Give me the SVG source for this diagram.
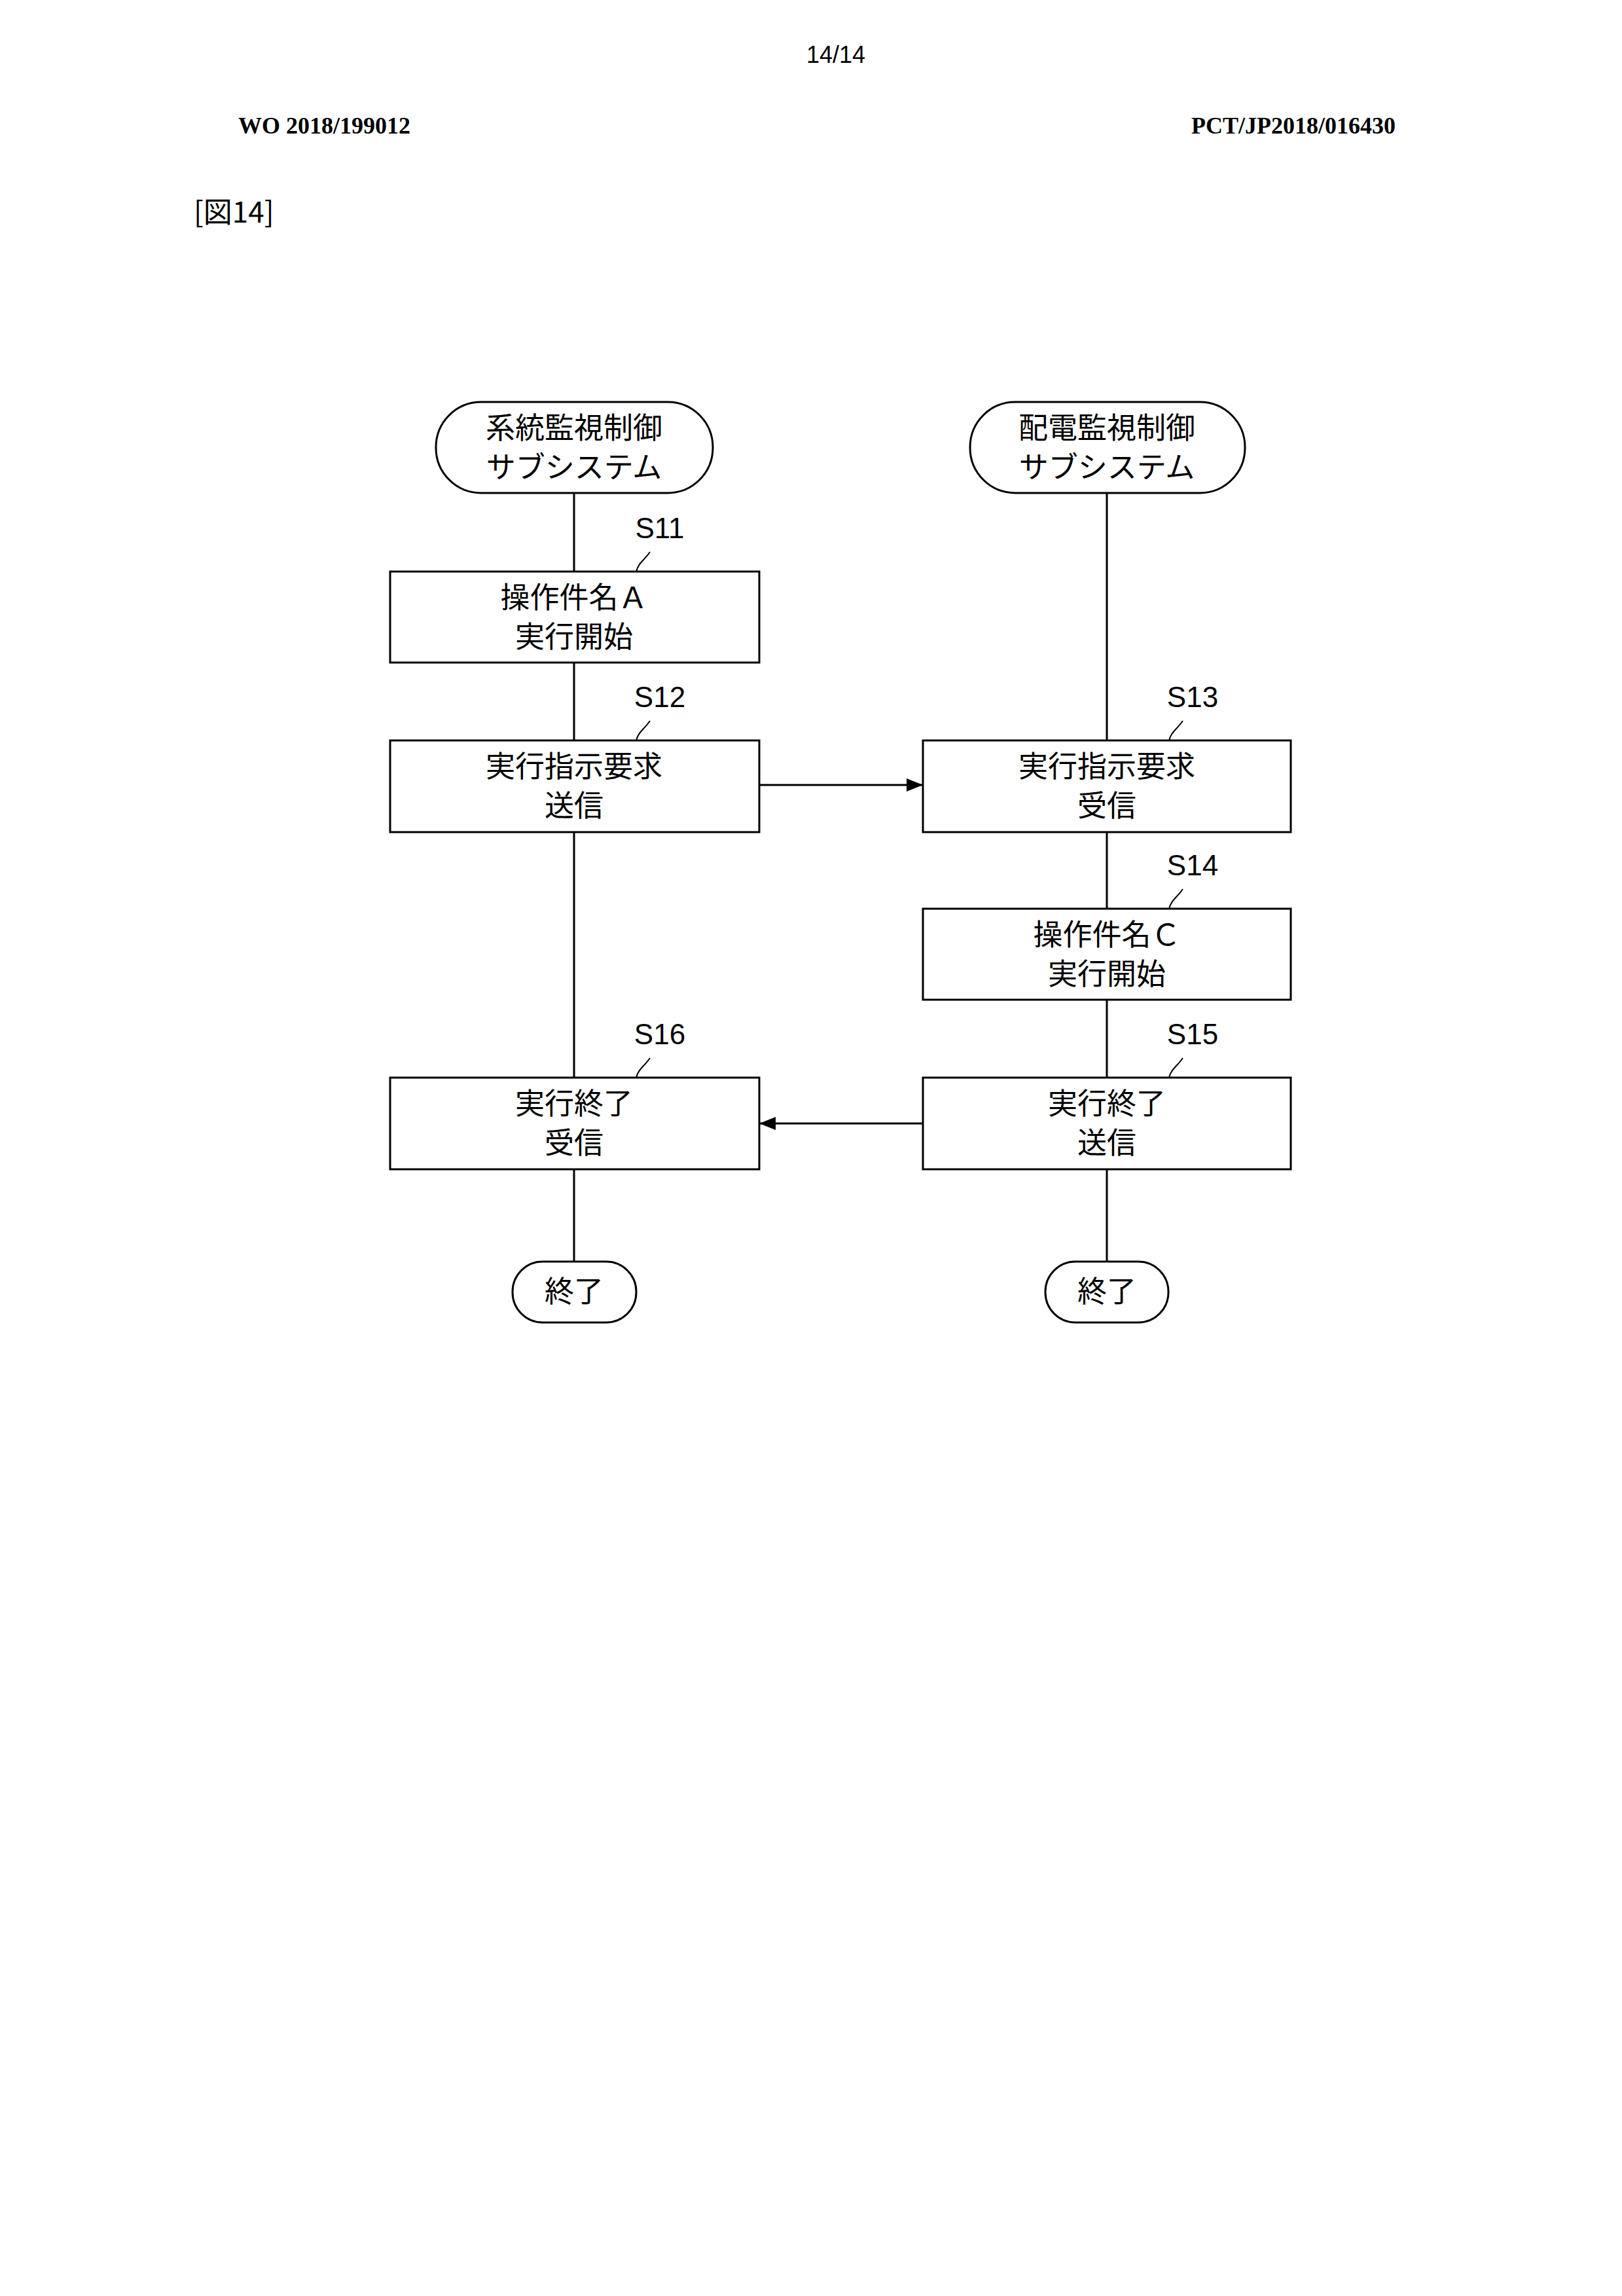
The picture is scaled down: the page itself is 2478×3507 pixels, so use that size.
<svg xmlns="http://www.w3.org/2000/svg" width="2478" height="3507" viewBox="0 0 2478 3507">
<style>
.t{font-family:"Noto Sans CJK JP","Liberation Sans",sans-serif;font-size:45px;text-anchor:middle;fill:#000}
.s{font-family:"Liberation Sans Narrow","Liberation Sans",sans-serif;font-size:44px;text-anchor:middle;fill:#000}
.h{font-family:"Liberation Serif",serif;font-size:36px;font-weight:bold;fill:#000}
.b{fill:#fff;stroke:#000;stroke-width:3}
.l{stroke:#000;stroke-width:3;fill:none}
.ld{stroke:#000;stroke-width:2;fill:none}
</style>
<defs>
<marker id="ar" viewBox="0 0 10 8" refX="10" refY="4" markerWidth="26" markerHeight="20" orient="auto" markerUnits="userSpaceOnUse"><path d="M0,0L10,4L0,8z"/></marker></defs>
<rect width="2478" height="3507" fill="#fff"/>
<text x="1277" y="96" style="font-family:'Liberation Sans',sans-serif;font-size:36px;text-anchor:middle">14/14</text>
<text x="364" y="204" class="h">WO 2018/199012</text>
<text x="2132" y="204" class="h" text-anchor="end">PCT/JP2018/016430</text>
<text x="296" y="340" style="font-family:'Noto Sans CJK JP',sans-serif;font-size:44px">[図14]</text>
<g id="connectors">
<line class="l" x1="877" y1="753" x2="877" y2="873"/>
<line class="l" x1="877" y1="1012" x2="877" y2="1131"/>
<line class="l" x1="877" y1="1271" x2="877" y2="1646"/>
<line class="l" x1="877" y1="1786" x2="877" y2="1927"/>
<line class="l" x1="1691" y1="753" x2="1691" y2="1131"/>
<line class="l" x1="1691" y1="1271" x2="1691" y2="1388"/>
<line class="l" x1="1691" y1="1527" x2="1691" y2="1646"/>
<line class="l" x1="1691" y1="1786" x2="1691" y2="1927"/>
<line class="l" x1="1160" y1="1199" x2="1410" y2="1199" marker-end="url(#ar)"/>
<line class="l" x1="1410" y1="1716" x2="1160" y2="1716" marker-end="url(#ar)"/>
</g>
<g id="start1"><rect class="b" x="666" y="614" width="423" height="139" rx="69"/><text class="t" x="877" y="670">系統監視制御</text><text class="t" x="877" y="730">サブシステム</text></g>
<g id="start2"><rect class="b" x="1482" y="614" width="420" height="139" rx="69"/><text class="t" x="1691" y="670">配電監視制御</text><text class="t" x="1691" y="730">サブシステム</text></g>
<g id="S11"><rect class="b" x="596" y="873" width="564" height="139"/><text class="t" x="877" y="929">操作件名Ａ</text><text class="t" x="877" y="989">実行開始</text><text class="s" x="1008" y="822">S11</text><path class="ld" d="M993,843 C985,855 975,860 972,873"/></g>
<g id="S12"><rect class="b" x="596" y="1131" width="564" height="140"/><text class="t" x="877" y="1187">実行指示要求</text><text class="t" x="877" y="1247">送信</text><text class="s" x="1008" y="1080">S12</text><path class="ld" d="M993,1101 C985,1113 975,1118 972,1131"/></g>
<g id="S13"><rect class="b" x="1410" y="1131" width="562" height="140"/><text class="t" x="1691" y="1187">実行指示要求</text><text class="t" x="1691" y="1247">受信</text><text class="s" x="1822" y="1080">S13</text><path class="ld" d="M1807,1101 C1799,1113 1789,1118 1786,1131"/></g>
<g id="S14"><rect class="b" x="1410" y="1388" width="562" height="139"/><text class="t" x="1691" y="1444">操作件名Ｃ</text><text class="t" x="1691" y="1504">実行開始</text><text class="s" x="1822" y="1337">S14</text><path class="ld" d="M1807,1358 C1799,1370 1789,1375 1786,1388"/></g>
<g id="S15"><rect class="b" x="1410" y="1646" width="562" height="140"/><text class="t" x="1691" y="1702">実行終了</text><text class="t" x="1691" y="1762">送信</text><text class="s" x="1822" y="1595">S15</text><path class="ld" d="M1807,1616 C1799,1628 1789,1633 1786,1646"/></g>
<g id="S16"><rect class="b" x="596" y="1646" width="564" height="140"/><text class="t" x="877" y="1702">実行終了</text><text class="t" x="877" y="1762">受信</text><text class="s" x="1008" y="1595">S16</text><path class="ld" d="M993,1616 C985,1628 975,1633 972,1646"/></g>
<g id="end1"><rect class="b" x="783" y="1927" width="189" height="93" rx="46"/><text class="t" x="877" y="1989">終了</text></g>
<g id="end2"><rect class="b" x="1597" y="1927" width="188" height="93" rx="46"/><text class="t" x="1691" y="1989">終了</text></g>
</svg>
